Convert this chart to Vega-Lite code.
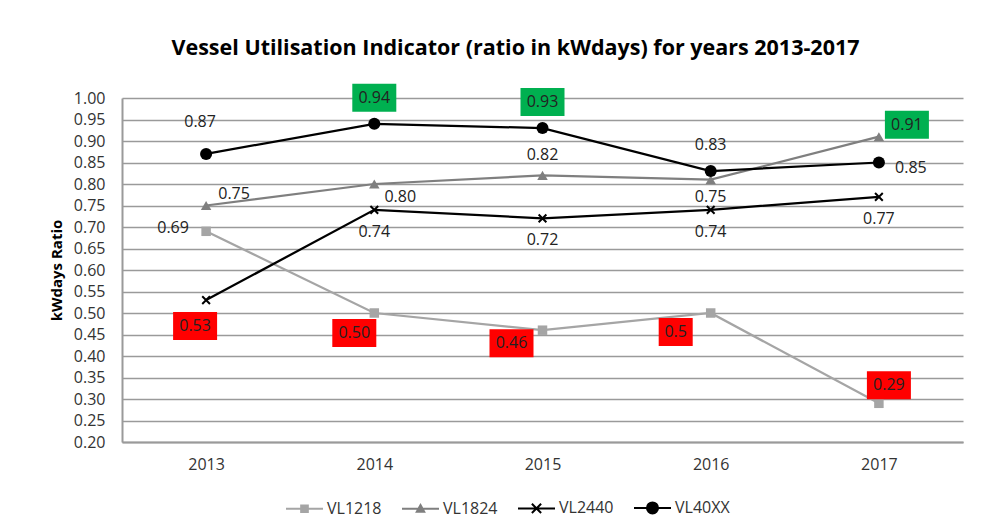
{
  "$schema": "https://vega.github.io/schema/vega-lite/v6.json",
  "width": 841,
  "height": 344,
  "autosize": {"type": "none"},
  "padding": {"left": 122, "top": 98, "right": 23, "bottom": 82},
  "background": "white",
  "title": {
    "text": "Vessel Utilisation Indicator (ratio in kWdays) for years 2013-2017",
    "font": "Open Sans",
    "fontSize": 21.5,
    "fontWeight": "bold",
    "color": "black",
    "frame": "group",
    "anchor": "middle",
    "dx": -27,
    "baseline": "alphabetic",
    "offset": 7
  },
  "config": {
    "view": {"stroke": null},
    "axisY": {
      "grid": true,
      "gridColor": "#9a9a9a",
      "gridWidth": 1.3,
      "domainColor": "#9a9a9a",
      "domainWidth": 2,
      "ticks": false,
      "tickSize": 0,
      "labelPadding": 17,
      "labelFont": "Open Sans",
      "labelFontSize": 16,
      "labelColor": "#333333",
      "titleFont": "Open Sans",
      "titleFontSize": 15,
      "titleFontWeight": "bold",
      "titleColor": "black",
      "titleX": -61,
      "titleBaseline": "alphabetic"
    },
    "axisX": {
      "grid": false,
      "domainColor": "#9a9a9a",
      "domainWidth": 2,
      "ticks": false,
      "tickSize": 0,
      "labelPadding": 14,
      "labelAngle": 0,
      "labelFont": "Open Sans",
      "labelFontSize": 16,
      "labelColor": "#333333",
      "title": null
    }
  },
  "data": {
    "values": [
      {"series": "VL1218", "year": "2013", "value": 0.69, "label": "0.69"},
      {"series": "VL1218", "year": "2014", "value": 0.50, "label": "0.50"},
      {"series": "VL1218", "year": "2015", "value": 0.46, "label": "0.46"},
      {"series": "VL1218", "year": "2016", "value": 0.50, "label": "0.5"},
      {"series": "VL1218", "year": "2017", "value": 0.29, "label": "0.29"},
      {"series": "VL1824", "year": "2013", "value": 0.75, "label": "0.75"},
      {"series": "VL1824", "year": "2014", "value": 0.80, "label": "0.80"},
      {"series": "VL1824", "year": "2015", "value": 0.82, "label": "0.82"},
      {"series": "VL1824", "year": "2016", "value": 0.81, "label": "0.75"},
      {"series": "VL1824", "year": "2017", "value": 0.91, "label": "0.91"},
      {"series": "VL2440", "year": "2013", "value": 0.53, "label": "0.53"},
      {"series": "VL2440", "year": "2014", "value": 0.74, "label": "0.74"},
      {"series": "VL2440", "year": "2015", "value": 0.72, "label": "0.72"},
      {"series": "VL2440", "year": "2016", "value": 0.74, "label": "0.74"},
      {"series": "VL2440", "year": "2017", "value": 0.77, "label": "0.77"},
      {"series": "VL40XX", "year": "2013", "value": 0.87, "label": "0.87"},
      {"series": "VL40XX", "year": "2014", "value": 0.94, "label": "0.94"},
      {"series": "VL40XX", "year": "2015", "value": 0.93, "label": "0.93"},
      {"series": "VL40XX", "year": "2016", "value": 0.83, "label": "0.83"},
      {"series": "VL40XX", "year": "2017", "value": 0.85, "label": "0.85"}
    ]
  },
  "encoding": {
    "x": {"field": "year", "type": "ordinal", "scale": {"type": "point", "padding": 0.5}},
    "y": {
      "field": "value",
      "type": "quantitative",
      "scale": {"domain": [0.2, 1.0], "nice": false, "zero": false},
      "axis": {
        "values": [0.2, 0.25, 0.3, 0.35, 0.4, 0.45, 0.5, 0.55, 0.6, 0.65, 0.7, 0.75, 0.8, 0.85, 0.9, 0.95, 1.0],
        "format": ".2f",
        "title": "kWdays Ratio"
      }
    }
  },
  "layer": [
    {
      "mark": {"type": "line", "strokeWidth": 2.25},
      "encoding": {
        "color": {
          "field": "series",
          "type": "nominal",
          "scale": {"domain": ["VL1218", "VL1824", "VL2440", "VL40XX"], "range": ["#A5A5A5", "#7F7F7F", "#000000", "#000000"]},
          "legend": {
            "orient": "none",
            "legendX": 163,
            "legendY": 390,
            "direction": "horizontal",
            "title": null,
            "padding": 0,
            "symbolSize": 1369,
            "labelFont": "Open Sans",
            "labelFontSize": 16,
            "labelColor": "#333333",
            "labelOffset": 3,
            "columnPadding": 16,
            "encode": {
              "symbols": {
                "update": {
                  "shape": {"signal": "datum.value === 'VL1218' ? 'M-1,0L1,0M-0.18,-0.18L0.18,-0.18L0.18,0.18L-0.18,0.18Z' : datum.value === 'VL1824' ? 'M-1,0L1,0M0,-0.2L0.2,0.16L-0.2,0.16Z' : datum.value === 'VL2440' ? 'M-1,0L1,0M-0.25,-0.25L0.25,0.25M-0.25,0.25L0.25,-0.25' : 'M-1,0L1,0M0.3,0A0.3,0.3 0 1,1 -0.3,0A0.3,0.3 0 1,1 0.3,0Z'"},
                  "fill": {"scale": "color", "field": "value"},
                  "stroke": {"scale": "color", "field": "value"},
                  "strokeWidth": {"value": 2},
                  "opacity": {"value": 1}
                }
              }
            }
          }
        }
      }
    },
    {
      "transform": [{"filter": "datum.series === 'VL1218'"}],
      "mark": {"type": "point", "shape": "square", "filled": true, "size": 90, "color": "#A5A5A5", "opacity": 1}
    },
    {
      "transform": [{"filter": "datum.series === 'VL1824'"}],
      "mark": {"type": "point", "shape": "triangle-up", "filled": true, "size": 110, "color": "#7F7F7F", "opacity": 1}
    },
    {
      "transform": [{"filter": "datum.series === 'VL2440'"}],
      "mark": {"type": "point", "shape": "M-1,-1L1,1M-1,1L1,-1", "filled": false, "size": 60, "stroke": "#000000", "strokeWidth": 2, "opacity": 1}
    },
    {
      "transform": [{"filter": "datum.series === 'VL40XX'"}],
      "mark": {"type": "point", "shape": "circle", "filled": true, "size": 145, "color": "#000000", "opacity": 1}
    },
    {
      "transform": [{"filter": "indexof(['VL40XX-2014','VL40XX-2015','VL40XX-2016'], datum.series + '-' + datum.year) >= 0"}],
      "layer": [
        {
          "transform": [{"filter": "datum.value >= 0.9 || datum.value < 0.6"}],
          "mark": {"type": "point", "filled": true, "size": 1936, "opacity": 1, "xOffset": 0, "yOffset": -26},
          "encoding": {
            "shape": {"condition": {"test": "length(datum.label) < 4", "value": "M-0.773,-0.636L0.773,-0.636L0.773,0.636L-0.773,0.636Z"}, "value": "M-1,-0.636L1,-0.636L1,0.636L-1,0.636Z"},
            "fill": {"condition": {"test": "datum.value >= 0.9", "value": "#00B050"}, "value": "#FF0000"}
          }
        },
        {
          "mark": {"type": "text", "font": "Open Sans", "fontSize": 16, "color": "#222222", "align": "center", "baseline": "middle", "dx": 0, "dy": -26},
          "encoding": {"text": {"field": "label"}}
        }
      ]
    },
    {
      "transform": [{"filter": "datum.series === 'VL40XX' && datum.year === '2013'"}],
      "mark": {"type": "text", "font": "Open Sans", "fontSize": 16, "color": "#222222", "align": "center", "baseline": "middle", "dx": -6, "dy": -32},
      "encoding": {"text": {"field": "label"}}
    },
    {
      "transform": [{"filter": "datum.series === 'VL1824' && datum.year === '2015'"}],
      "mark": {"type": "text", "font": "Open Sans", "fontSize": 16, "color": "#222222", "align": "center", "baseline": "middle", "dx": 0, "dy": -20},
      "encoding": {"text": {"field": "label"}}
    },
    {
      "transform": [{"filter": "datum.series === 'VL40XX' && datum.year === '2017'"}],
      "mark": {"type": "text", "font": "Open Sans", "fontSize": 16, "color": "#222222", "align": "center", "baseline": "middle", "dx": 32, "dy": 5},
      "encoding": {"text": {"field": "label"}}
    },
    {
      "transform": [{"filter": "datum.series === 'VL1824' && (datum.year === '2013' || datum.year === '2017')"}],
      "layer": [
        {
          "transform": [{"filter": "datum.value >= 0.9 || datum.value < 0.6"}],
          "mark": {"type": "point", "filled": true, "size": 1936, "opacity": 1, "xOffset": 28, "yOffset": -12},
          "encoding": {
            "shape": {"condition": {"test": "length(datum.label) < 4", "value": "M-0.773,-0.636L0.773,-0.636L0.773,0.636L-0.773,0.636Z"}, "value": "M-1,-0.636L1,-0.636L1,0.636L-1,0.636Z"},
            "fill": {"condition": {"test": "datum.value >= 0.9", "value": "#00B050"}, "value": "#FF0000"}
          }
        },
        {
          "mark": {"type": "text", "font": "Open Sans", "fontSize": 16, "color": "#222222", "align": "center", "baseline": "middle", "dx": 28, "dy": -12},
          "encoding": {"text": {"field": "label"}}
        }
      ]
    },
    {
      "transform": [{"filter": "datum.series === 'VL1824' && datum.year === '2014'"}],
      "mark": {"type": "text", "font": "Open Sans", "fontSize": 16, "color": "#222222", "align": "center", "baseline": "middle", "dx": 26, "dy": 13},
      "encoding": {"text": {"field": "label"}}
    },
    {
      "transform": [{"filter": "datum.series === 'VL1824' && datum.year === '2016'"}],
      "mark": {"type": "text", "font": "Open Sans", "fontSize": 16, "color": "#222222", "align": "center", "baseline": "middle", "dx": 0, "dy": 17},
      "encoding": {"text": {"field": "label"}}
    },
    {
      "transform": [{"filter": "datum.series === 'VL2440' && datum.year !== '2013'"}],
      "mark": {"type": "text", "font": "Open Sans", "fontSize": 16, "color": "#222222", "align": "center", "baseline": "middle", "dx": 0, "dy": 22},
      "encoding": {"text": {"field": "label"}}
    },
    {
      "transform": [{"filter": "datum.series === 'VL1218' && datum.year === '2013'"}],
      "mark": {"type": "text", "font": "Open Sans", "fontSize": 16, "color": "#222222", "align": "center", "baseline": "middle", "dx": -33, "dy": -3},
      "encoding": {"text": {"field": "label"}}
    },
    {
      "transform": [{"filter": "datum.series === 'VL2440' && datum.year === '2013'"}],
      "layer": [
        {
          "mark": {"type": "point", "filled": true, "size": 1936, "opacity": 1, "xOffset": -11, "yOffset": 26},
          "encoding": {
            "shape": {"condition": {"test": "length(datum.label) < 4", "value": "M-0.773,-0.636L0.773,-0.636L0.773,0.636L-0.773,0.636Z"}, "value": "M-1,-0.636L1,-0.636L1,0.636L-1,0.636Z"},
            "fill": {"condition": {"test": "datum.value >= 0.9", "value": "#00B050"}, "value": "#FF0000"}
          }
        },
        {
          "mark": {"type": "text", "font": "Open Sans", "fontSize": 16, "color": "#222222", "align": "center", "baseline": "middle", "dx": -11, "dy": 26},
          "encoding": {"text": {"field": "label"}}
        }
      ]
    },
    {
      "transform": [{"filter": "datum.series === 'VL1218' && datum.year === '2014'"}],
      "layer": [
        {
          "mark": {"type": "point", "filled": true, "size": 1936, "opacity": 1, "xOffset": -20, "yOffset": 20},
          "encoding": {
            "shape": {"condition": {"test": "length(datum.label) < 4", "value": "M-0.773,-0.636L0.773,-0.636L0.773,0.636L-0.773,0.636Z"}, "value": "M-1,-0.636L1,-0.636L1,0.636L-1,0.636Z"},
            "fill": {"condition": {"test": "datum.value >= 0.9", "value": "#00B050"}, "value": "#FF0000"}
          }
        },
        {
          "mark": {"type": "text", "font": "Open Sans", "fontSize": 16, "color": "#222222", "align": "center", "baseline": "middle", "dx": -20, "dy": 20},
          "encoding": {"text": {"field": "label"}}
        }
      ]
    },
    {
      "transform": [{"filter": "datum.series === 'VL1218' && datum.year === '2015'"}],
      "layer": [
        {
          "mark": {"type": "point", "filled": true, "size": 1936, "opacity": 1, "xOffset": -31, "yOffset": 13},
          "encoding": {
            "shape": {"condition": {"test": "length(datum.label) < 4", "value": "M-0.773,-0.636L0.773,-0.636L0.773,0.636L-0.773,0.636Z"}, "value": "M-1,-0.636L1,-0.636L1,0.636L-1,0.636Z"},
            "fill": {"condition": {"test": "datum.value >= 0.9", "value": "#00B050"}, "value": "#FF0000"}
          }
        },
        {
          "mark": {"type": "text", "font": "Open Sans", "fontSize": 16, "color": "#222222", "align": "center", "baseline": "middle", "dx": -31, "dy": 13},
          "encoding": {"text": {"field": "label"}}
        }
      ]
    },
    {
      "transform": [{"filter": "datum.series === 'VL1218' && datum.year === '2016'"}],
      "layer": [
        {
          "mark": {"type": "point", "filled": true, "size": 1936, "opacity": 1, "xOffset": -35, "yOffset": 19},
          "encoding": {
            "shape": {"condition": {"test": "length(datum.label) < 4", "value": "M-0.773,-0.636L0.773,-0.636L0.773,0.636L-0.773,0.636Z"}, "value": "M-1,-0.636L1,-0.636L1,0.636L-1,0.636Z"},
            "fill": {"condition": {"test": "datum.value >= 0.9", "value": "#00B050"}, "value": "#FF0000"}
          }
        },
        {
          "mark": {"type": "text", "font": "Open Sans", "fontSize": 16, "color": "#222222", "align": "center", "baseline": "middle", "dx": -35, "dy": 19},
          "encoding": {"text": {"field": "label"}}
        }
      ]
    },
    {
      "transform": [{"filter": "datum.series === 'VL1218' && datum.year === '2017'"}],
      "layer": [
        {
          "mark": {"type": "point", "filled": true, "size": 1936, "opacity": 1, "xOffset": 10, "yOffset": -18},
          "encoding": {
            "shape": {"condition": {"test": "length(datum.label) < 4", "value": "M-0.773,-0.636L0.773,-0.636L0.773,0.636L-0.773,0.636Z"}, "value": "M-1,-0.636L1,-0.636L1,0.636L-1,0.636Z"},
            "fill": {"condition": {"test": "datum.value >= 0.9", "value": "#00B050"}, "value": "#FF0000"}
          }
        },
        {
          "mark": {"type": "text", "font": "Open Sans", "fontSize": 16, "color": "#222222", "align": "center", "baseline": "middle", "dx": 10, "dy": -18},
          "encoding": {"text": {"field": "label"}}
        }
      ]
    }
  ]
}
